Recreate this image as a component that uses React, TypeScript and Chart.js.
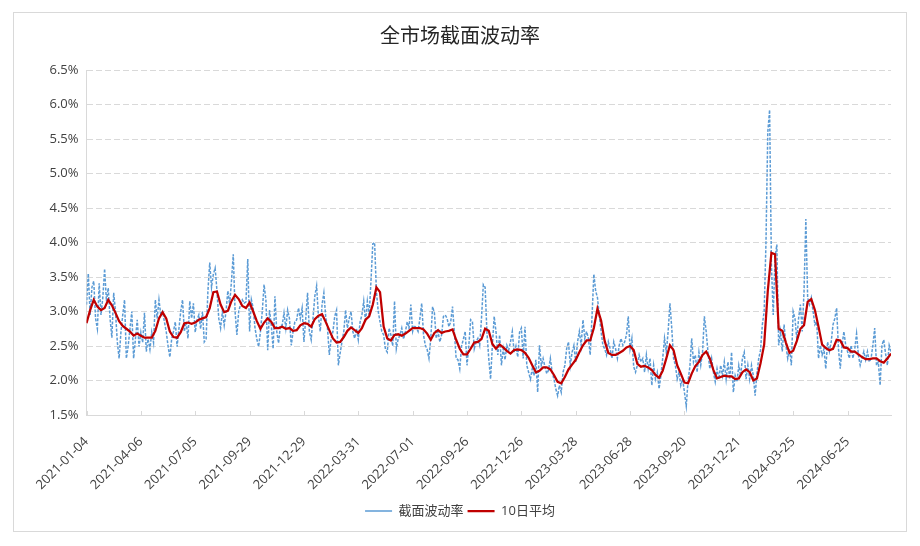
import { useEffect, useRef } from "react";
import { Chart, registerables } from "chart.js";

Chart.register(...registerables);

const TITLE = "全市场截面波动率";
const SERIES_NAMES = ["截面波动率", "10日平均"];
const TICK_LABELS = [
  "2021-01-04", "2021-04-06", "2021-07-05", "2021-09-29", "2021-12-29",
  "2022-03-31", "2022-07-01", "2022-09-26", "2022-12-26", "2023-03-28",
  "2023-06-28", "2023-09-20", "2023-12-21", "2024-03-25", "2024-06-25",
];
const TICK_EVERY = 60; // trading days between labelled ticks
const LAST_INDEX = 888; // last trading-day index
const VOL_STEP = 2; // trading days between volatility samples
const MA_STEP = 4; // trading days between 10-day-average samples

// 截面波动率 (%), one sample every 2 trading days
const volatility = [
  3.1, 3.55, 2.95, 3.35, 3.44, 2.9, 2.75, 3.41, 2.95, 3.2,
  3.62, 3.15, 3.34, 2.9, 2.62, 3.27, 3.0, 2.56, 2.32, 2.7,
  2.95, 3.17, 2.32, 2.5, 2.75, 3.0, 2.32, 2.6, 2.88, 2.49,
  2.7, 2.55, 2.98, 2.42, 2.6, 2.45, 2.7, 2.55, 3.17, 2.9,
  3.17, 2.95, 3.0, 2.85, 2.71, 2.5, 2.34, 2.6, 2.71, 2.85,
  2.49, 2.75, 3.0, 3.17, 2.71, 2.85, 2.61, 3.15, 2.9, 3.12,
  2.7, 2.88, 2.95, 2.75, 3.0, 2.56, 2.6, 3.29, 3.71, 3.35,
  3.54, 3.63, 3.3, 2.9, 2.76, 3.0, 2.8, 3.0, 3.3, 3.1,
  3.44, 3.83, 3.0, 2.66, 3.0, 3.1, 3.17, 3.12, 3.14, 3.76,
  2.71, 3.17, 3.05, 2.76, 2.6, 2.49, 2.71, 3.0, 3.39, 3.17,
  2.44, 3.02, 2.8, 2.46, 3.22, 2.71, 2.54, 2.8, 2.8, 2.98,
  2.76, 3.02, 2.9, 2.51, 2.71, 2.85, 2.88, 3.05, 2.9, 3.05,
  2.56, 2.9, 3.27, 2.71, 2.59, 2.9, 3.22, 3.37, 2.93, 2.71,
  3.1, 3.27, 2.93, 2.76, 2.37, 2.6, 2.71, 2.93, 3.02, 2.22,
  2.4, 2.56, 2.71, 3.02, 2.76, 2.9, 3.0, 2.71, 2.61, 2.75,
  2.59, 2.85, 2.95, 3.15, 2.85, 3.15, 2.95, 3.44, 3.98, 4.0,
  3.29, 3.0, 2.85, 2.71, 2.66, 2.45, 2.41, 2.76, 2.66, 2.5,
  3.15, 2.46, 2.6, 2.66, 2.76, 2.6, 2.71, 2.85, 2.76, 3.1,
  2.71, 2.8, 2.76, 2.71, 2.9, 3.12, 2.66, 2.51, 2.45, 2.32,
  2.61, 3.07, 2.98, 2.61, 2.71, 2.56, 2.66, 2.93, 2.95, 2.9,
  2.78, 2.85, 3.07, 2.71, 2.32, 2.3, 2.17, 2.5, 2.6, 2.71,
  2.22, 2.5, 2.88, 2.85, 2.46, 2.56, 2.61, 2.51, 2.9, 3.39,
  3.35, 2.7, 2.32, 2.02, 2.51, 2.93, 2.71, 2.37, 2.66, 2.22,
  2.46, 2.3, 2.51, 2.44, 2.56, 2.71, 2.41, 2.5, 2.34, 2.7,
  2.76, 2.32, 2.78, 2.22, 2.12, 2.02, 2.17, 2.07, 2.3, 1.83,
  2.51, 2.22, 2.32, 2.2, 2.1, 2.15, 2.32, 2.12, 2.02, 1.88,
  1.78, 1.93, 1.83, 2.12, 2.22, 2.46, 2.56, 2.22, 2.41, 2.51,
  2.27, 2.56, 2.71, 2.51, 2.88, 2.61, 2.71, 2.61, 2.37, 2.93,
  3.54, 3.3, 3.2, 2.95, 2.71, 2.51, 2.46, 2.37, 2.56, 2.46,
  2.32, 2.56, 2.46, 2.32, 2.51, 2.61, 2.51, 2.56, 2.66, 2.93,
  2.46, 2.61, 2.2, 2.12, 2.22, 2.37, 2.27, 2.32, 2.12, 2.37,
  2.17, 2.32, 1.93, 2.22, 2.02, 2.12, 1.88, 2.07, 2.32, 2.61,
  2.41, 2.71, 3.12, 2.76, 2.32, 2.22, 2.02, 2.12, 1.93, 2.02,
  1.83, 1.63, 2.0, 2.2, 2.61, 2.27, 2.37, 2.12, 2.41, 2.22,
  2.41, 2.93, 2.71, 2.41, 2.17, 2.32, 2.12, 1.98, 2.17, 2.02,
  2.22, 2.07, 2.27, 2.02, 2.27, 2.02, 2.41, 1.83, 2.07, 1.98,
  2.22, 2.07, 2.32, 2.41, 2.02, 2.22, 2.02, 2.22, 2.07, 1.78,
  2.1, 2.32, 2.44, 2.81, 3.0, 4.0, 5.6, 5.92, 3.68, 2.95,
  3.78, 3.97, 2.51, 2.71, 2.42, 2.81, 2.51, 2.32, 2.46, 2.22,
  3.0, 2.9, 2.6, 2.9, 3.1, 2.71, 3.29, 4.34, 3.2, 3.1,
  3.2, 3.0, 2.81, 2.85, 2.32, 2.51, 2.37, 2.46, 2.17, 2.56,
  2.42, 2.56, 2.81, 2.9, 3.05, 2.46, 2.17, 2.51, 2.71, 2.51,
  2.42, 2.32, 2.51, 2.32, 2.46, 2.68, 2.37, 2.22, 2.32, 2.42,
  2.3, 2.42, 2.27, 2.32, 2.51, 2.76, 2.22, 2.27, 1.93, 2.51,
  2.59, 2.39, 2.22, 2.51, 2.42,
];

// 10日平均 (%), one sample every 4 trading days
const ma10 = [
  2.83, 3.02, 3.17, 3.07, 3.02, 3.05, 3.17, 3.09, 2.98, 2.86,
  2.79, 2.75, 2.71, 2.65, 2.68, 2.65, 2.62, 2.62, 2.62, 2.72,
  2.9, 2.99, 2.9, 2.71, 2.63, 2.62, 2.7, 2.83, 2.84, 2.82,
  2.84, 2.88, 2.9, 2.92, 3.05, 3.28, 3.29, 3.1, 2.99, 3.01,
  3.15, 3.24, 3.18, 3.08, 3.05, 3.13, 3.0, 2.86, 2.75, 2.84,
  2.9, 2.85, 2.76, 2.76, 2.78, 2.75, 2.76, 2.72, 2.73, 2.8,
  2.83, 2.82, 2.78, 2.89, 2.94, 2.96, 2.85, 2.73, 2.61, 2.55,
  2.56, 2.63, 2.72, 2.77, 2.73, 2.69, 2.76, 2.88, 2.93, 3.1,
  3.35, 3.28, 2.78, 2.61, 2.58, 2.66, 2.67, 2.65, 2.68, 2.72,
  2.76, 2.76, 2.76, 2.74, 2.68, 2.59, 2.69, 2.73, 2.69, 2.71,
  2.72, 2.74, 2.59, 2.46, 2.38, 2.38, 2.46, 2.55, 2.56, 2.6,
  2.75, 2.72, 2.53, 2.46, 2.52, 2.48, 2.43, 2.39, 2.44, 2.45,
  2.44, 2.4, 2.33, 2.22, 2.12, 2.14, 2.19, 2.19, 2.16, 2.08,
  1.98, 1.96, 2.05, 2.16, 2.23, 2.3, 2.41, 2.51, 2.58, 2.58,
  2.76, 3.04, 2.87, 2.57, 2.4, 2.37, 2.37, 2.4, 2.43, 2.48,
  2.5, 2.44, 2.24, 2.2, 2.21, 2.19, 2.15, 2.08, 2.04, 2.14,
  2.32, 2.51, 2.44, 2.22, 2.1, 1.97, 1.96, 2.1, 2.21, 2.27,
  2.37, 2.42, 2.32, 2.15, 2.03, 2.05, 2.07, 2.06, 2.06, 2.02,
  2.03, 2.12, 2.16, 2.12, 2.0, 2.03, 2.25, 2.52, 3.3, 3.85,
  3.83, 2.75, 2.72, 2.55, 2.4, 2.43, 2.57, 2.75, 2.8, 3.14,
  3.18, 3.02, 2.78, 2.52, 2.47, 2.44, 2.46, 2.59, 2.58, 2.48,
  2.47, 2.42, 2.42, 2.38, 2.34, 2.31, 2.31, 2.32, 2.32, 2.28,
  2.26, 2.32, 2.39,
];

const FONT = '"Open Sans", "Noto Sans CJK SC", sans-serif';
const TEXT_COLOR = "#404040";
const LINE_GRAY = "#d9d9d9";

export default function App() {
  const ref = useRef<HTMLCanvasElement>(null);

  useEffect(() => {
    if (!ref.current) return;

    const innerTicks = {
      id: "innerTicks",
      beforeDatasetsDraw(chart: any) {
        const sx = chart.scales.x;
        const ctx = chart.ctx;
        ctx.save();
        ctx.strokeStyle = LINE_GRAY;
        ctx.lineWidth = 1;
        ctx.beginPath();
        for (const t of sx.ticks) {
          const px = Math.round(sx.getPixelForValue(t.value)) + 0.5;
          ctx.moveTo(px, sx.top);
          ctx.lineTo(px, sx.top - 4);
        }
        ctx.stroke();
        ctx.restore();
      },
    };

    const chart = new Chart(ref.current, {
      type: "line",
      data: {
        datasets: [
          {
            label: SERIES_NAMES[0],
            data: volatility.map((y, i) => ({ x: i * VOL_STEP, y })),
            borderColor: "#5b9bd5",
            borderWidth: 1.5,
            borderDash: [3, 1.5],
            pointRadius: 0,
            pointStyle: "line",
            tension: 0,
            order: 1,
          },
          {
            label: SERIES_NAMES[1],
            data: ma10.map((y, i) => ({ x: i * MA_STEP, y })),
            borderColor: "#c00000",
            borderWidth: 2.25,
            pointRadius: 0,
            pointStyle: "line",
            tension: 0,
            order: 0,
          },
        ],
      },
      options: {
        responsive: false,
        animation: false,
        layout: { padding: { left: 29, right: 29, top: 0, bottom: 18.5 } },
        plugins: {
          title: {
            display: true,
            text: TITLE,
            color: "#262626",
            font: { family: FONT, size: 20, weight: "normal" },
            padding: { top: 25, bottom: 21 },
          },
          legend: {
            position: "bottom",
            labels: {
              usePointStyle: true,
              pointStyleWidth: 27,
              padding: 4,
              color: TEXT_COLOR,
              font: { family: FONT, size: 13 },
              sort: (a: any, b: any) => a.datasetIndex - b.datasetIndex,
            },
          },
          tooltip: { enabled: false },
        },
        scales: {
          x: {
            type: "linear",
            min: 0,
            max: LAST_INDEX,
            afterBuildTicks: (s: any) => {
              s.ticks = TICK_LABELS.map((_, i) => ({ value: i * TICK_EVERY }));
            },
            afterFit: (s: any) => {
              s.height = 85.5;
            },
            ticks: {
              autoSkip: false,
              minRotation: 45,
              maxRotation: 45,
              padding: 11,
              color: TEXT_COLOR,
              font: { family: FONT, size: 13 },
              callback: (v: any) => TICK_LABELS[Math.round(v / TICK_EVERY)] ?? "",
            },
            grid: { display: false },
            border: { display: true, color: LINE_GRAY },
          },
          y: {
            min: 1.5,
            max: 6.5,
            afterFit: (s: any) => {
              s.width = 57.5;
            },
            ticks: {
              stepSize: 0.5,
              padding: 8,
              color: TEXT_COLOR,
              font: { family: FONT, size: 13 },
              callback: (v: any) => Number(v).toFixed(1) + "%",
            },
            grid: { color: LINE_GRAY, drawTicks: false },
            border: { display: true, color: LINE_GRAY, dash: [6, 3] },
          },
        },
      },
      plugins: [innerTicks],
    } as any);

    return () => chart.destroy();
  }, []);

  return (
    <div style={{ position: "fixed", left: 0, top: 0, width: 920, height: 546, background: "#fff" }}>
      <canvas ref={ref} width={920} height={546} style={{ display: "block", width: 920, height: 546 }} />
      <div
        style={{
          position: "absolute",
          left: 13,
          top: 12,
          width: 894,
          height: 520,
          boxSizing: "border-box",
          border: "1px solid " + LINE_GRAY,
          pointerEvents: "none",
        }}
      />
    </div>
  );
}
